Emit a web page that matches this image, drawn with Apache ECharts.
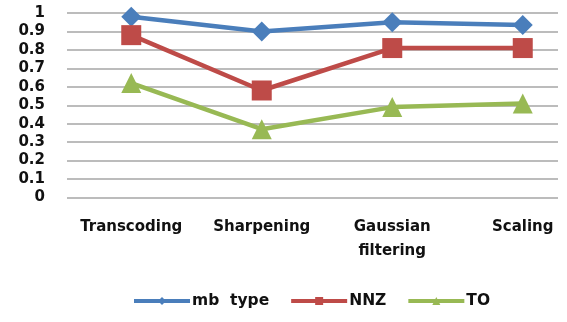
<!DOCTYPE html>
<html>
<head>
<meta charset="utf-8">
<script src="https://cdn.jsdelivr.net/npm/echarts@6/dist/echarts.min.js"></script>
<style>
  html, body { margin: 0; padding: 0; background: #fff; }
  #chart { width: 567px; height: 322px; }
</style>
</head>
<body>
<div id="chart"></div>
<script>
// Categories and per-metric scores
const categories = ['Transcoding', 'Sharpening', 'Gaussian\nfiltering', 'Scaling'];
const mbType = [0.98, 0.90, 0.95, 0.935];
const nnz = [0.88, 0.58, 0.81, 0.81];
const to = [0.62, 0.37, 0.49, 0.51];
const yTicks = [0, 0.1, 0.2, 0.3, 0.4, 0.5, 0.6, 0.7, 0.8, 0.9, 1];

const FONT = '"DejaVu Sans", sans-serif';
const TOP = 13, BOTTOM = 322 - 197.5;

const chart = echarts.init(document.getElementById('chart'), null, { renderer: 'canvas' });

function lineSeries(name, data, color, symbol, size) {
  return {
    name, type: 'line', data,
    xAxisIndex: 1, yAxisIndex: 1,
    symbol, symbolSize: size,
    lineStyle: { color, width: 4.5 },
    itemStyle: { color },
    emphasis: { disabled: true },
    animation: false
  };
}

chart.setOption({
  animation: false,
  legend: {
    bottom: 8,
    left: 127,
    itemWidth: 56,
    itemHeight: 10,
    itemGap: 20,
    lineStyle: { width: 4 },
    textStyle: { fontFamily: FONT, fontWeight: 'bold', fontSize: 15.5, color: '#111', padding: [0, 0, 0, -3] },
    data: ['mb  type', 'NNZ', 'TO']
  },
  grid: [
    // value grid: gridlines and y labels
    { left: 67, right: 9, top: TOP, bottom: BOTTOM, outerBoundsMode: 'none' },
    // series grid: category bands run past the right gridline end
    { left: 66, width: 522, top: TOP, bottom: BOTTOM, outerBoundsMode: 'none' }
  ],
  xAxis: [
    { gridIndex: 0, type: 'category', data: categories, show: false },
    {
      gridIndex: 1, type: 'category', data: categories,
      axisLine: { show: false }, axisTick: { show: false },
      axisLabel: {
        interval: 0, hideOverlap: false,
        fontFamily: FONT, fontWeight: 'bold', fontSize: 15, color: '#111',
        margin: 18, lineHeight: 24
      }
    }
  ],
  yAxis: [
    {
      gridIndex: 0, type: 'value', min: 0, max: 1, interval: 0.1,
      axisLine: { show: false }, axisTick: { show: false },
      axisLabel: {
        fontFamily: FONT, fontWeight: 'bold', fontSize: 15, color: '#111', margin: 22,
        formatter: v => { const t = yTicks.find(k => Math.abs(k - v) < 1e-6); return String(t); }
      },
      splitLine: { lineStyle: { color: '#a6a6a6', width: 1.5 } }
    },
    { gridIndex: 1, type: 'value', min: 0, max: 1, show: false, splitLine: { show: false } }
  ],
  series: [
    lineSeries('mb  type', mbType, '#4a7ebb', 'diamond', 20),
    lineSeries('NNZ', nnz, '#be4b48', 'rect', 20),
    lineSeries('TO', to, '#98b954', 'triangle', 20)
  ]
});
</script>
</body>
</html>
